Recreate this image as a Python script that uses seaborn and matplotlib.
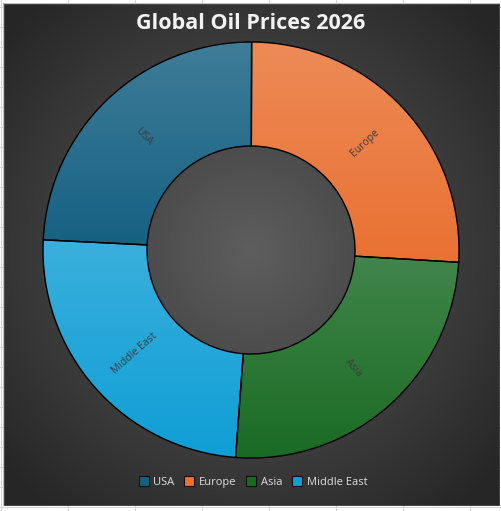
import numpy as np
import matplotlib
matplotlib.use("Agg")
import matplotlib.pyplot as plt
import matplotlib.colors as mcolors
from matplotlib.patches import Patch
import seaborn as sns

# ---- data ----
regions = ["USA", "Europe", "Asia", "Middle East"]
prices = [75, 80, 78, 76]
colors = ["#156082", "#E97132", "#196B24", "#0F9ED5"]
title = "Global Oil Prices 2026"

sns.set_theme(style="white")
plt.rcParams['font.family'] = ['Open Sans', 'DejaVu Sans']

W, H = 502, 511
fig = plt.figure(figsize=(W / 100, H / 100), dpi=100, facecolor="white")

# faint spreadsheet gridlines in the margins
grid = fig.add_axes([0, 0, 1, 1])
grid.set_xlim(0, W)
grid.set_ylim(H, 0)
grid.axis("off")
for gx in range(1, W, 67):
    grid.axvline(gx, color="#d4d4d4", lw=0.8)
for gy in range(7, H, 20):
    grid.axhline(gy, color="#d4d4d4", lw=0.8)

# chart area with radial gradient
x0, y0, x1, y1 = 3, 3, 500, 506
bg = fig.add_axes([x0 / W, 1 - y1 / H, (x1 - x0) / W, (y1 - y0) / H])
bg.axis("off")
cx, cy = 251, 250
yy, xx = np.mgrid[y0:y1, x0:x1]
d = np.sqrt((xx - cx) ** 2 + (yy - cy) ** 2) / 330.0
d = np.clip(d, 0, 1)
inner = np.array(mcolors.to_rgb("#5e5e5e"))
outer = np.array(mcolors.to_rgb("#262626"))
img = inner[None, None, :] * (1 - d[..., None]) + outer[None, None, :] * d[..., None]
bg.imshow(img, aspect="auto", interpolation="bilinear")
bg.add_patch(plt.Rectangle((-0.5, -0.5), x1 - x0, y1 - y0, fill=False,
                           ec="#bfbfbf", lw=1))

# donut
R = 208
ax = fig.add_axes([(cx - R) / W, 1 - (cy + R) / H, 2 * R / W, 2 * R / H])
ax.axis("off")
wedges, _ = ax.pie(prices, colors=colors, startangle=177.2, counterclock=False,
                   radius=1, wedgeprops=dict(width=0.5, edgecolor="black",
                                             linewidth=1))
for w, c, name in zip(wedges, colors, regions):
    verts = w.get_path().transformed(w.get_patch_transform()).vertices
    xmin, xmax = verts[:, 0].min(), verts[:, 0].max()
    ymin, ymax = verts[:, 1].min(), verts[:, 1].max()
    base = np.array(mcolors.to_rgb(c))
    light = base + (1 - base) * 0.18
    t = np.linspace(0, 1, 256)[:, None]
    grad = (light[None, :] * (1 - t) + base[None, :] * t)[:, None, :]
    im = ax.imshow(grad, extent=[xmin, xmax, ymin, ymax], aspect="auto",
                   zorder=1, interpolation="bilinear")
    im.set_clip_path(w)
    w.set_facecolor("none")
    w.set_zorder(2)
    # radial label
    ang = (w.theta1 + w.theta2) / 2
    mid = np.deg2rad(ang)
    rot = (ang + 180) % 360 - 180
    if rot > 90:
        rot -= 180
    elif rot < -90:
        rot += 180
    ax.text(0.75 * np.cos(mid), 0.75 * np.sin(mid), name,
            rotation=rot, ha="center", va="center", fontsize=7.5,
            color="#3c3c3c", zorder=3, rotation_mode="anchor")

ax.set_aspect("auto")
ax.set_xlim(-1, 1)
ax.set_ylim(-1, 1)

fig.text(cx / W, 1 - 23 / H, title, ha="center", va="center",
         fontsize=15.5, fontweight="bold", color="#f2f2f2")

handles = [Patch(facecolor=c, edgecolor="#111111", lw=0.8) for c in colors]
leg = fig.legend(handles, regions, loc="center", ncol=4,
                 bbox_to_anchor=(253 / W, 1 - 482 / H), frameon=False,
                 fontsize=8, handlelength=0.9, handleheight=0.9,
                 handletextpad=0.4, columnspacing=0.9, labelcolor="#dedede")

fig.savefig("out.png", dpi=100, facecolor="white")
